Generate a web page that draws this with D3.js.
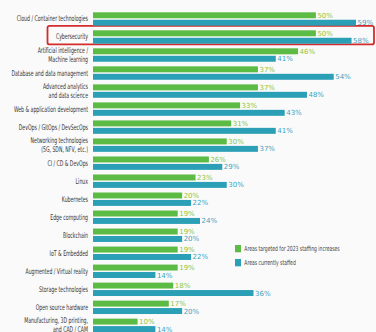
<!DOCTYPE html>
<html>
<head>
<meta charset="utf-8">
<script src="https://cdn.jsdelivr.net/npm/d3@7"></script>
<style>
  html, body { margin: 0; padding: 0; background: #fafafa; }
  svg { display: block; }
</style>
</head>
<body>
<svg id="chart" width="376" height="332"></svg>
<script>
// Technology areas, each label split into display lines
const categories = [
  ["Cloud / Container technologies"],
  ["Cybersecurity"],
  ["Artificial intelligence /", "Machine learning"],
  ["Database and data management"],
  ["Advanced analytics", "and data science"],
  ["Web & application development"],
  ["DevOps / GitOps / DevSecOps"],
  ["Networking technologies", "(5G, SDN, NFV, etc.)"],
  ["CI / CD & DevOps"],
  ["Linux"],
  ["Kubernetes"],
  ["Edge computing"],
  ["Blockchain"],
  ["IoT & Embedded"],
  ["Augmented / Virtual reality"],
  ["Storage technologies"],
  ["Open source hardware"],
  ["Manufacturing, 3D printing,", "and CAD / CAM"]
];

// Percent of respondents
const targeted2023 = [50, 50, 46, 37, 37, 33, 31, 30, 26, 23, 20, 19, 19, 19, 19, 18, 17, 10];
const currentlyStaffed = [59, 58, 41, 54, 48, 43, 41, 37, 29, 30, 22, 24, 20, 22, 14, 36, 20, 14];

const seriesNames = ["Areas targeted for 2023 staffing increases", "Areas currently staffed"];
const highlighted = "Cybersecurity";

const barColors = ["#5cbb45", "#2a9fb6"];
const labelColors = ["#8cc63e", "#3aa3c2"];

const svg = d3.select("#chart");
const condensed = "'Liberation Sans Narrow', 'DejaVu Sans Condensed', sans-serif";

const keys = categories.map(c => c.join(" "));
const rows = keys.map((k, i) => ({ key: k, lines: categories[i], values: [targeted2023[i], currentlyStaffed[i]] }));

const y = d3.scaleBand().domain(keys).range([10.3, 10.3 + 18.02 * keys.length]).paddingInner(0);
const ySeries = d3.scaleBand().domain([0, 1]).range([2, 15.4]).paddingInner(0.2);
const x = d3.scaleLinear().domain([0, 59]).range([93, 356]);

// Highlight box around one row
const hy = y(highlighted);
svg.append("rect")
  .attr("x", 47.5).attr("y", hy - 2.5)
  .attr("width", 326.5).attr("height", 18.6)
  .attr("rx", 2)
  .attr("fill", "none")
  .attr("stroke", "#d42b2d")
  .attr("stroke-width", 1.8);

const groups = svg.append("g").selectAll("g.row")
  .data(rows).join("g")
  .attr("class", "row")
  .attr("transform", d => `translate(0,${y(d.key)})`);

groups.selectAll("rect")
  .data(d => d.values.map((v, s) => ({ v, s })))
  .join("rect")
  .attr("x", x(0))
  .attr("y", d => ySeries(d.s))
  .attr("width", d => x(d.v) - x(0))
  .attr("height", ySeries.bandwidth())
  .attr("fill", d => barColors[d.s]);

groups.selectAll("text.val")
  .data(d => d.values.map((v, s) => ({ v, s })))
  .join("text")
  .attr("class", "val")
  .attr("x", d => x(d.v) + 1.5)
  .attr("y", d => ySeries(d.s) + ySeries.bandwidth() / 2)
  .attr("dy", "0.36em")
  .attr("font-family", "'DejaVu Sans', sans-serif")
  .attr("font-size", 7)
  .attr("fill", d => labelColors[d.s])
  .text(d => d.v + "%");

// Category labels, right-aligned and horizontally condensed
const labelG = groups.append("g")
  .attr("transform", `translate(88,${y.bandwidth() / 2 - 0.6}) scale(0.66,1)`);
labelG.selectAll("text")
  .data(d => d.lines.map((t, i) => ({ t, i, n: d.lines.length })))
  .join("text")
  .attr("x", 0)
  .attr("y", d => (d.i - (d.n - 1) / 2) * 9.4)
  .attr("dy", "0.35em")
  .attr("text-anchor", "end")
  .attr("font-family", condensed)
  .attr("font-size", 7.8)
  .attr("fill", "#333")
  .text(d => d.t);

// Legend
const legend = svg.append("g").attr("transform", "translate(235,245)");
const li = legend.selectAll("g").data(seriesNames).join("g")
  .attr("transform", (d, i) => `translate(0,${i * 14})`);
li.append("rect").attr("width", 6).attr("height", 7.3).attr("fill", (d, i) => barColors[i]);
li.append("g").attr("transform", "translate(9.3,3.8) scale(0.72,1)")
  .append("text")
  .attr("dy", "0.35em")
  .attr("font-family", condensed)
  .attr("font-size", 7)
  .attr("fill", "#444")
  .text(d => d);
</script>
</body>
</html>
